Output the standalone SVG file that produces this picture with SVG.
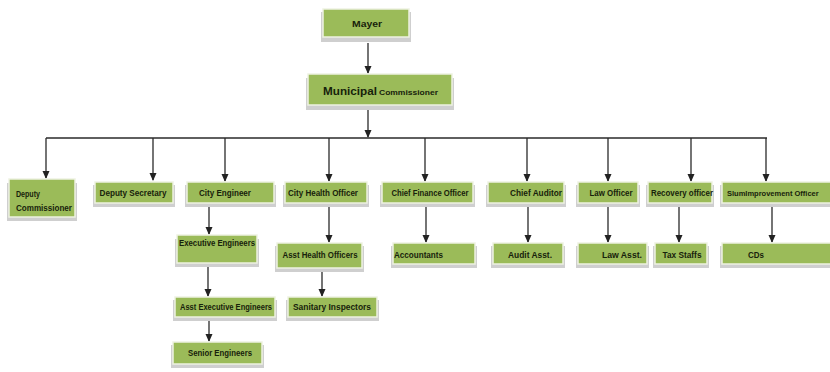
<svg xmlns="http://www.w3.org/2000/svg" width="830" height="372" viewBox="0 0 830 372">
<defs>
<marker id="ah" markerWidth="8" markerHeight="8" refX="7" refY="4" orient="auto" markerUnits="userSpaceOnUse">
<path d="M0,0.5 L8,4 L0,7.5 Z" fill="#222"/>
</marker>
<style>
.sh{fill:#cfcfcf;}
.bx{fill:#9bbb59;stroke:#eef2e2;stroke-width:1.5;}
.t{font-family:"Liberation Sans",Arial,sans-serif;font-weight:bold;font-size:9px;fill:#17220b;}
.c{stroke:#2a2a2a;stroke-width:1.3;fill:none;}
.a{stroke:#2a2a2a;stroke-width:1.3;fill:none;marker-end:url(#ah);}
</style>
</defs>
<rect width="830" height="372" fill="#ffffff"/>

<g id="connectors">
<line class="a" x1="368" y1="43" x2="368" y2="73"/>
<line class="a" x1="368" y1="110" x2="368" y2="137"/>
<line class="c" x1="46" y1="138" x2="767" y2="138"/>
<line class="a" x1="46" y1="138" x2="46" y2="178"/>
<line class="a" x1="153" y1="138" x2="153" y2="180"/>
<line class="a" x1="225" y1="138" x2="225" y2="181"/>
<line class="a" x1="329" y1="138" x2="329" y2="181"/>
<line class="a" x1="425" y1="138" x2="425" y2="181"/>
<line class="a" x1="527" y1="138" x2="527" y2="181"/>
<line class="a" x1="608" y1="138" x2="608" y2="181"/>
<line class="a" x1="691" y1="138" x2="691" y2="181"/>
<line class="a" x1="766" y1="138" x2="766" y2="181"/>
<line class="a" x1="209" y1="206" x2="209" y2="234"/>
<line class="a" x1="208" y1="266" x2="208" y2="296"/>
<line class="a" x1="209" y1="320" x2="209" y2="341"/>
<line class="a" x1="329" y1="206" x2="329" y2="242"/>
<line class="a" x1="322" y1="271" x2="322" y2="296"/>
<line class="a" x1="426" y1="206" x2="426" y2="242"/>
<line class="a" x1="528" y1="206" x2="528" y2="242"/>
<line class="a" x1="608" y1="206" x2="608" y2="242"/>
<line class="a" x1="679" y1="206" x2="679" y2="242"/>
<line class="a" x1="772" y1="206" x2="772" y2="242"/>
</g>

<g id="mayer">
<rect class="sh" x="321" y="12" width="90" height="30"/>
<rect class="bx" x="323" y="9" width="86" height="28"/>
<text class="t" x="367" y="27" text-anchor="middle" textLength="30" lengthAdjust="spacingAndGlyphs">Mayer</text>
</g>

<g id="municipal-commissioner">
<rect class="sh" x="306" y="78" width="148" height="32"/>
<rect class="bx" x="308" y="74" width="144" height="31"/>
<text class="t" x="323" y="95"><tspan font-size="11" textLength="54" lengthAdjust="spacingAndGlyphs">Municipal</tspan><tspan font-size="8" dx="2" textLength="59" lengthAdjust="spacingAndGlyphs">Commissioner</tspan></text>
</g>

<g id="deputy-commissioner">
<rect class="sh" x="7" y="183" width="70" height="38"/>
<rect class="bx" x="9" y="179" width="66" height="38"/>
<text class="t" x="16" y="197" textLength="24" lengthAdjust="spacingAndGlyphs">Deputy</text>
<text class="t" x="16" y="211" textLength="56" lengthAdjust="spacingAndGlyphs">Commissioner</text>
</g>

<g id="deputy-secretary">
<rect class="sh" x="93" y="185" width="82" height="22"/>
<rect class="bx" x="95" y="182" width="78" height="21"/>
<text class="t" x="133" y="196" text-anchor="middle" textLength="67" lengthAdjust="spacingAndGlyphs">Deputy Secretary</text>
</g>

<g id="city-engineer">
<rect class="sh" x="185" y="185" width="91" height="22"/>
<rect class="bx" x="187" y="182" width="87" height="21"/>
<text class="t" x="225" y="196" text-anchor="middle" textLength="52" lengthAdjust="spacingAndGlyphs">City Engineer</text>
</g>

<g id="city-health-officer">
<rect class="sh" x="283" y="185" width="86" height="22"/>
<rect class="bx" x="285" y="182" width="82" height="21"/>
<text class="t" x="323" y="196" text-anchor="middle" textLength="70" lengthAdjust="spacingAndGlyphs">City Health Officer</text>
</g>

<g id="chief-finance-officer">
<rect class="sh" x="380" y="185" width="95" height="22"/>
<rect class="bx" x="382" y="182" width="91" height="21"/>
<text class="t" x="430" y="196" text-anchor="middle" textLength="77" lengthAdjust="spacingAndGlyphs">Chief Finance Officer</text>
</g>

<g id="chief-auditor">
<rect class="sh" x="486" y="185" width="80" height="22"/>
<rect class="bx" x="488" y="182" width="76" height="21"/>
<text class="t" x="536" y="196" text-anchor="middle" textLength="52" lengthAdjust="spacingAndGlyphs">Chief Auditor</text>
</g>

<g id="law-officer">
<rect class="sh" x="576" y="185" width="64" height="22"/>
<rect class="bx" x="578" y="182" width="60" height="21"/>
<text class="t" x="611" y="196" text-anchor="middle" textLength="43" lengthAdjust="spacingAndGlyphs">Law Officer</text>
</g>

<g id="recovery-officer">
<rect class="sh" x="646" y="185" width="68" height="22"/>
<rect class="bx" x="648" y="182" width="64" height="21"/>
<text class="t" x="651" y="196" textLength="62" lengthAdjust="spacingAndGlyphs">Recovery officer</text>
</g>

<g id="slum-improvement-officer">
<rect class="sh" x="720" y="185" width="114" height="22"/>
<rect class="bx" x="722" y="182" width="112" height="21"/>
<text class="t" x="727" y="196" style="font-size:7.5px">SlumImprovement Officer</text>
</g>

<g id="executive-engineers">
<rect class="sh" x="175" y="239" width="84" height="28"/>
<rect class="bx" x="177" y="235" width="80" height="28"/>
<text class="t" x="179" y="246" textLength="76" lengthAdjust="spacingAndGlyphs">Executive Engineers</text>
</g>

<g id="asst-health-officers">
<rect class="sh" x="275" y="246" width="89" height="26"/>
<rect class="bx" x="277" y="243" width="85" height="25"/>
<text class="t" x="320" y="258" text-anchor="middle" textLength="75" lengthAdjust="spacingAndGlyphs">Asst Health Officers</text>
</g>

<g id="accountants">
<rect class="sh" x="391" y="246" width="86" height="22"/>
<rect class="bx" x="393" y="243" width="82" height="21"/>
<text class="t" x="394" y="258" textLength="49" lengthAdjust="spacingAndGlyphs">Accountants</text>
</g>

<g id="audit-asst">
<rect class="sh" x="491" y="246" width="74" height="22"/>
<rect class="bx" x="493" y="243" width="70" height="21"/>
<text class="t" x="530" y="258" text-anchor="middle" textLength="44" lengthAdjust="spacingAndGlyphs">Audit Asst.</text>
</g>

<g id="law-asst">
<rect class="sh" x="576" y="246" width="73" height="22"/>
<rect class="bx" x="578" y="243" width="69" height="21"/>
<text class="t" x="602" y="258" textLength="40" lengthAdjust="spacingAndGlyphs">Law Asst.</text>
</g>

<g id="tax-staffs">
<rect class="sh" x="653" y="246" width="56" height="22"/>
<rect class="bx" x="655" y="243" width="52" height="21"/>
<text class="t" x="682" y="258" text-anchor="middle" textLength="39" lengthAdjust="spacingAndGlyphs">Tax Staffs</text>
</g>

<g id="cds">
<rect class="sh" x="720" y="246" width="114" height="22"/>
<rect class="bx" x="722" y="243" width="112" height="21"/>
<text class="t" x="748" y="258" textLength="16" lengthAdjust="spacingAndGlyphs">CDs</text>
</g>

<g id="asst-executive-engineers">
<rect class="sh" x="173" y="300" width="104" height="21"/>
<rect class="bx" x="175" y="297" width="100" height="20"/>
<text class="t" x="226" y="310" text-anchor="middle" textLength="92" lengthAdjust="spacingAndGlyphs">Asst Executive Engineers</text>
</g>

<g id="sanitary-inspectors">
<rect class="sh" x="286" y="300" width="93" height="21"/>
<rect class="bx" x="288" y="297" width="89" height="20"/>
<text class="t" x="332" y="310" text-anchor="middle" textLength="78" lengthAdjust="spacingAndGlyphs">Sanitary Inspectors</text>
</g>

<g id="senior-engineers">
<rect class="sh" x="171" y="345" width="93" height="23"/>
<rect class="bx" x="173" y="342" width="89" height="22"/>
<text class="t" x="220" y="356" text-anchor="middle" textLength="64" lengthAdjust="spacingAndGlyphs">Senior Engineers</text>
</g>
</svg>
